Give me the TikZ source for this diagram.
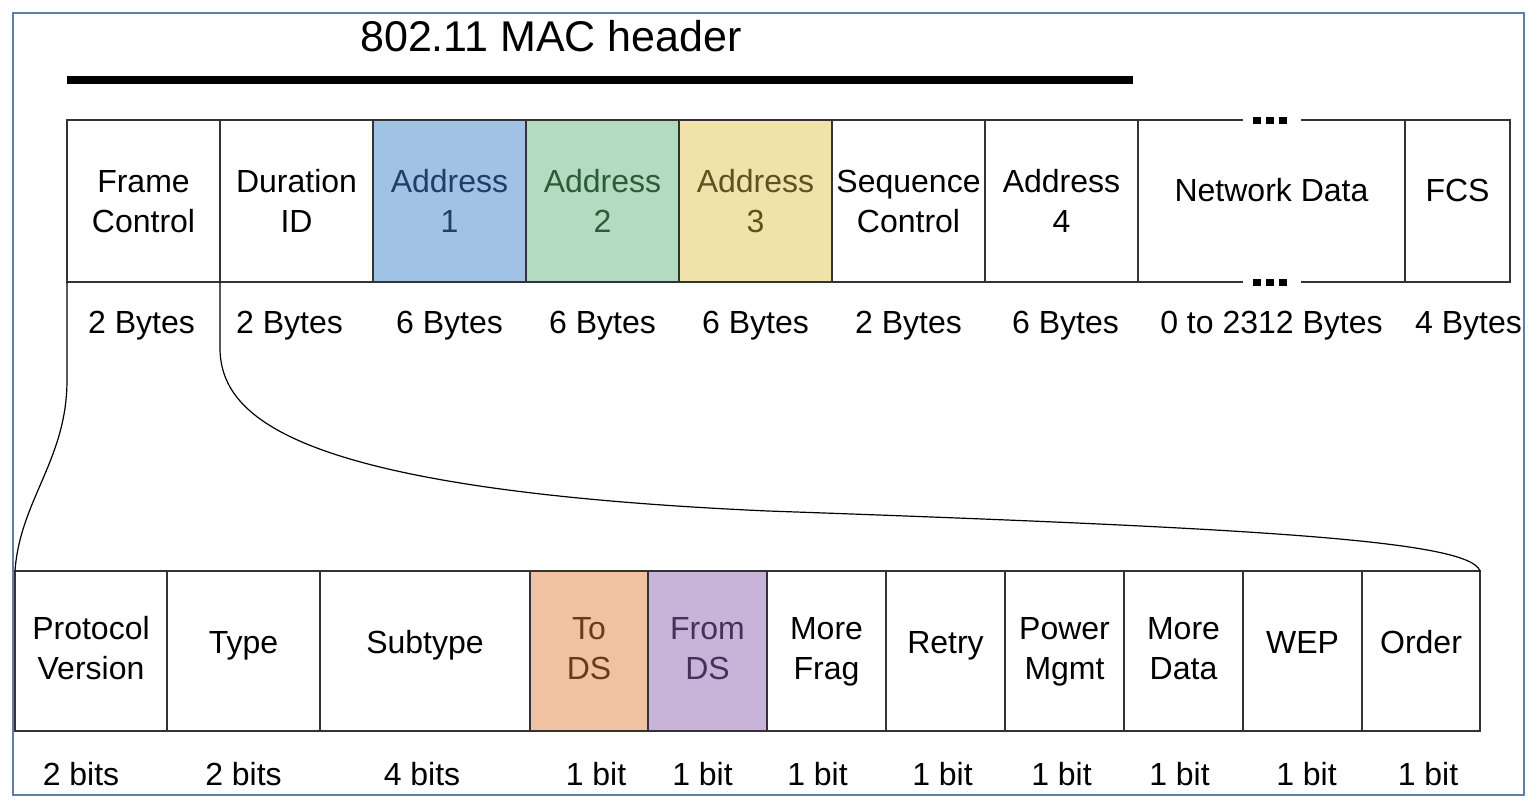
\documentclass[tikz,border=0pt]{standalone}
\usepackage{fontspec}
\setmainfont{Liberation Sans}
\usetikzlibrary{positioning}
\definecolor{frameblue}{HTML}{5F7FAB}
\definecolor{addrone}{HTML}{A0C2E4}
\definecolor{addronetext}{HTML}{1F3F66}
\definecolor{addrtwo}{HTML}{B3DBBF}
\definecolor{addrtwotext}{HTML}{2E5A3A}
\definecolor{addrthree}{HTML}{F0E2A8}
\definecolor{addrthreetext}{HTML}{5E5220}
\definecolor{tods}{HTML}{F0C2A2}
\definecolor{todstext}{HTML}{6A3A1C}
\definecolor{fromds}{HTML}{C8B4D8}
\definecolor{fromdstext}{HTML}{45305E}

\begin{document}
\begin{tikzpicture}[x=1pt,y=-1pt,
	fieldbox/.style={draw=black!80,line width=1.5pt,minimum height=162pt,inner sep=0pt,outer sep=0pt,align=center,
		text height=63pt,text depth=0pt,font=\fontsize{32}{40}\selectfont},
	bitbox/.style={fieldbox,minimum height=160pt,text depth=7pt},
	oneline/.style={text height=23pt,text depth=18pt},
	sizelbl/.style={inner sep=0pt,font=\fontsize{32}{40}\selectfont}]
	\useasboundingbox (0,0) rectangle (1536,808);
	\fill[white] (0,0) rectangle (1536,808);
	\draw[frameblue,line width=1.2pt] (13,13) rectangle (1524,795);
	% header title and bar
	\node (title) at (360,52) [anchor=base west,inner sep=0pt,font=\fontsize{43}{50}\selectfont] {802.11 MAC header};
	\draw[line width=8pt] (67,80) -- (1133,80);
	% MAC frame fields
	\node (fc) at (67,120) [fieldbox,minimum width=153pt,anchor=north west] {Frame\\Control};
	\node (dur) [fieldbox,minimum width=153pt,right=0pt of fc] {Duration\\ID};
	\node (adr1) [fieldbox,minimum width=153pt,fill=addrone,text=addronetext,right=0pt of dur] {Address\\1};
	\node (adr2) [fieldbox,minimum width=153pt,fill=addrtwo,text=addrtwotext,right=0pt of adr1] {Address\\2};
	\node (adr3) [fieldbox,minimum width=153pt,fill=addrthree,text=addrthreetext,right=0pt of adr2] {Address\\3};
	\node (seq) [fieldbox,minimum width=153pt,right=0pt of adr3] {Sequence\\Control};
	\node (adr4) [fieldbox,minimum width=153pt,right=0pt of seq] {Address\\4};
	\node (nd) [fieldbox,oneline,text depth=22pt,draw=none,minimum width=267pt,right=0pt of adr4] {Network Data};
	\node (fcs) [fieldbox,oneline,text depth=22pt,minimum width=105pt,right=0pt of nd] {FCS};
	\draw[black!80,line width=1.5pt] (nd.north west) -- ++(105,0) (nd.north east) -- ++(-104,0)
		(nd.south west) -- ++(105,0) (nd.south east) -- ++(-104,0);
	\foreach \dx in {-15,-2,11} {
		\fill ([xshift=\dx pt]nd.north) +(-4,-3.5) rectangle +(4,3.5);
		\fill ([xshift=\dx pt]nd.south) +(-4,-3.5) rectangle +(4,3.5);
	}
	% field sizes
	\node (fcsz) [sizelbl,below=51pt of fc.south,anchor=base,xshift=-2pt] {2 Bytes};
	\node (dursz) [sizelbl,below=51pt of dur.south,anchor=base,xshift=-7pt] {2 Bytes};
	\node (adr1sz) [sizelbl,below=51pt of adr1.south,anchor=base] {6 Bytes};
	\node (adr2sz) [sizelbl,below=51pt of adr2.south,anchor=base] {6 Bytes};
	\node (adr3sz) [sizelbl,below=51pt of adr3.south,anchor=base] {6 Bytes};
	\node (seqsz) [sizelbl,below=51pt of seq.south,anchor=base] {2 Bytes};
	\node (adr4sz) [sizelbl,below=51pt of adr4.south,anchor=base,xshift=4pt] {6 Bytes};
	\node (ndsz) [sizelbl,below=51pt of nd.south,anchor=base] {0 to 2312 Bytes};
	\node (fcssz) [sizelbl,below=51pt of fcs.south,anchor=base,xshift=11pt] {4 Bytes};
	% frame control bits
	\node (pv) at (15,571) [bitbox,minimum width=152pt,anchor=north west] {Protocol\\Version};
	\node (typ) [bitbox,oneline,minimum width=153pt,right=0pt of pv] {Type};
	\node (sub) [bitbox,oneline,minimum width=210pt,right=0pt of typ] {Subtype};
	\node (tds) [bitbox,minimum width=118pt,fill=tods,text=todstext,right=0pt of sub] {To\\DS};
	\node (fds) [bitbox,minimum width=119pt,fill=fromds,text=fromdstext,right=0pt of tds] {From\\DS};
	\node (mfrag) [bitbox,minimum width=119pt,right=0pt of fds] {More\\Frag};
	\node (retry) [bitbox,oneline,minimum width=119pt,right=0pt of mfrag] {Retry};
	\node (pwr) [bitbox,minimum width=119pt,right=0pt of retry] {Power\\Mgmt};
	\node (mdata) [bitbox,minimum width=119pt,right=0pt of pwr] {More\\Data};
	\node (wep) [bitbox,oneline,minimum width=119pt,right=0pt of mdata] {WEP};
	\node (ord) [bitbox,oneline,minimum width=118pt,right=0pt of wep] {Order};
	% bit sizes
	\node (pvsz) [sizelbl,below=54pt of pv.south,anchor=base,xshift=-10pt] {2 bits};
	\node (typsz) [sizelbl,below=54pt of typ.south,anchor=base] {2 bits};
	\node (subsz) [sizelbl,below=54pt of sub.south,anchor=base,xshift=-3pt] {4 bits};
	\node (tdssz) [sizelbl,below=54pt of tds.south,anchor=base,xshift=7pt] {1 bit};
	\node (fdssz) [sizelbl,below=54pt of fds.south,anchor=base,xshift=-5pt] {1 bit};
	\node (mfragsz) [sizelbl,below=54pt of mfrag.south,anchor=base,xshift=-9pt] {1 bit};
	\node (retrysz) [sizelbl,below=54pt of retry.south,anchor=base,xshift=-3pt] {1 bit};
	\node (pwrsz) [sizelbl,below=54pt of pwr.south,anchor=base,xshift=-3pt] {1 bit};
	\node (mdatasz) [sizelbl,below=54pt of mdata.south,anchor=base,xshift=-4pt] {1 bit};
	\node (wepsz) [sizelbl,below=54pt of wep.south,anchor=base,xshift=4pt] {1 bit};
	\node (ordsz) [sizelbl,below=54pt of ord.south,anchor=base,xshift=7pt] {1 bit};
	% expansion of frame control
	\draw[line width=1.2pt] (fc.south west) -- ++(0,98) .. controls +(0,80) and +(5,-71) .. (pv.north west);
	\draw[line width=1.2pt] (fc.south east) -- ++(0,68) .. controls +(2,70) and (300,490) .. (768,511)
		.. controls (1250,528) and +(-10,-31) .. (ord.north east);
\end{tikzpicture}
\end{document}
